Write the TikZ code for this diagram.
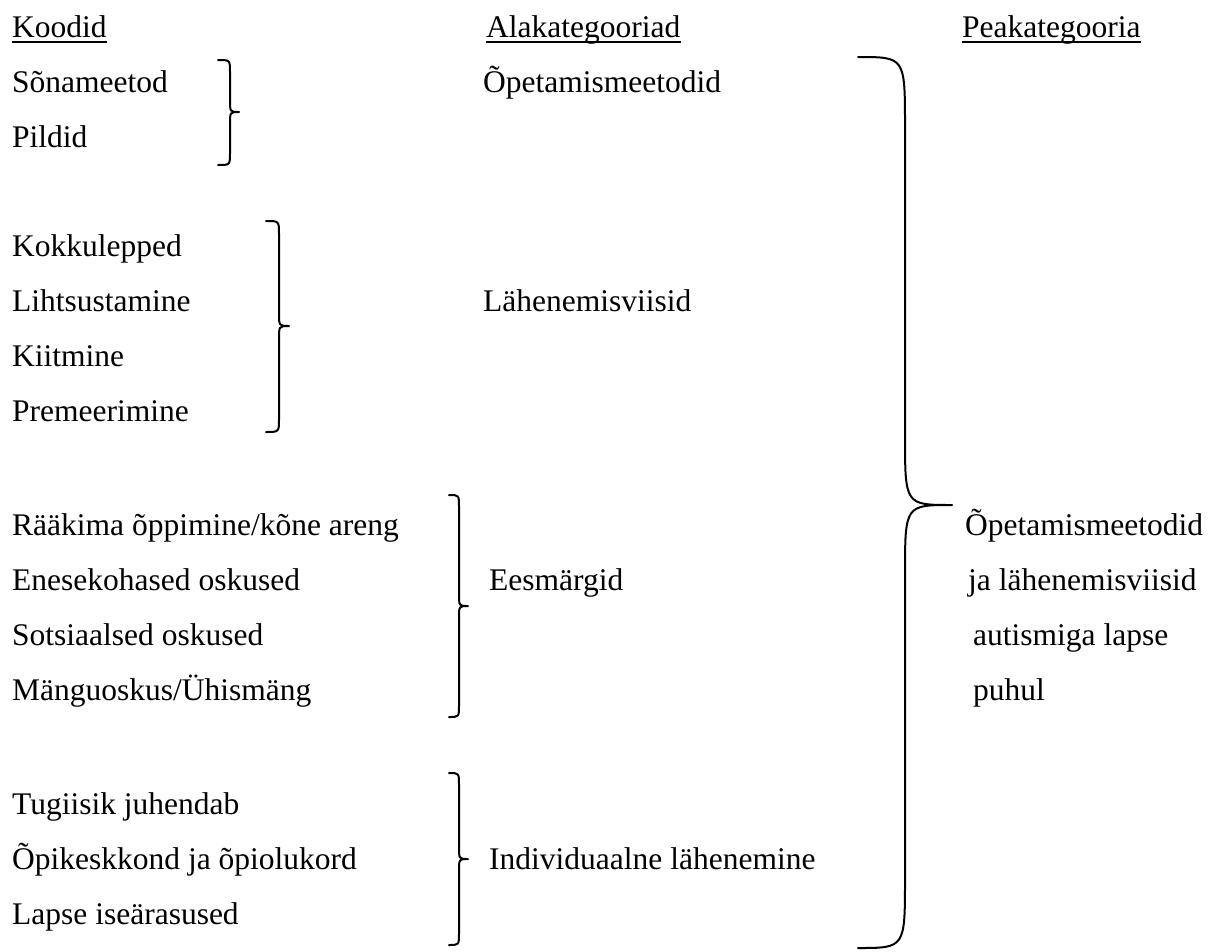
\documentclass[tikz,border=0pt]{standalone}
\usepackage{fontspec}
\setmainfont{Liberation Serif}
\newcommand\drawbrace[7]{% xend xvert xtip ytop ytip ybot radius
  \draw[bracestyle] (#1,#4) .. controls (#2,#4) .. (#2,#4+#7) -- (#2,#5-#7)
    .. controls (#2,#5) .. (#3,#5) .. controls (#2,#5) .. (#2,#5+#7)
    -- (#2,#6-#7) .. controls (#2,#6) .. (#1,#6);}
\begin{document}
\begin{tikzpicture}[x=1pt,y=-1pt,
  txt/.style={anchor=base west,inner sep=0pt,font=\fontsize{31.5}{38}\selectfont},
  bracestyle/.style={line width=2pt,line cap=round,line join=round},
  ul/.style={line width=2pt}]
\fill[white] (0,0) rectangle (1215,951);
\useasboundingbox (0,0) rectangle (1215,951);
% headers
\node[txt] (h1) at (12,37.5) {Koodid};
\node[txt] (h2) at (486,37.5) {Alakategooriad};
\node[txt] (h3) at (962,37.5) {Peakategooria};
\foreach \h in {h1,h2,h3}
  \draw[ul] ([yshift=-4.5pt]\h.base west) -- ([yshift=-4.5pt]\h.base east);
% codes
\node[txt] (k1) at (12,92) {Sõnameetod};
\node[txt] (k2) at (12,147) {Pildid};
\node[txt] (k3) at (12,256) {Kokkulepped};
\node[txt] (k4) at (12,311) {Lihtsustamine};
\node[txt] (k5) at (12,366) {Kiitmine};
\node[txt] (k6) at (12,421) {Premeerimine};
\node[txt] (k7) at (12,535) {Rääkima õppimine/kõne areng};
\node[txt] (k8) at (12,590) {Enesekohased oskused};
\node[txt] (k9) at (12,645) {Sotsiaalsed oskused};
\node[txt] (k10) at (12,700) {Mänguoskus/Ühismäng};
\node[txt] (k11) at (12,814) {Tugiisik juhendab};
\node[txt] (k12) at (12,869) {Õpikeskkond ja õpiolukord};
\node[txt] (k13) at (12,924) {Lapse iseärasused};
% subcategories
\node[txt] (a1) at (483,92) {Õpetamismeetodid};
\node[txt] (a2) at (483,311) {Lähenemisviisid};
\node[txt] (a3) at (489,590) {Eesmärgid};
\node[txt] (a4) at (489,869) {Individuaalne lähenemine};
% main category
\node[txt] (p1) at (965,535) {Õpetamismeetodid};
\node[txt] (p2) at (968,590) {ja lähenemisviisid};
\node[txt] (p3) at (973,645) {autismiga lapse};
\node[txt] (p4) at (973,700) {puhul};
% braces
\drawbrace{218}{230}{239}{60}{112}{165}{12}
\drawbrace{266}{279}{289}{221}{326}{432}{13}
\drawbrace{449}{459}{468}{495}{606}{717}{12}
\drawbrace{449}{459}{468}{773}{859}{945}{12}
\drawbrace{858}{905}{952}{57}{505}{948}{70}
\end{tikzpicture}
\end{document}
